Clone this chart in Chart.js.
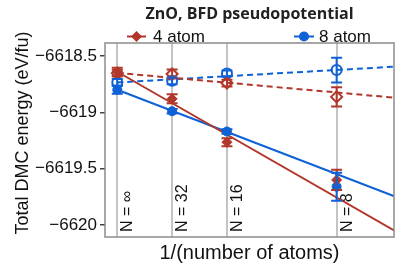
<!DOCTYPE html>
<html>
<head>
<meta charset="utf-8">
<script src="https://cdn.jsdelivr.net/npm/chart.js@4.4.1/dist/chart.umd.min.js"></script>
<style>
html, body { margin: 0; padding: 0; background: #fff; }
</style>
</head>
<body>
<canvas id="myChart" width="409" height="265"></canvas>
<script>
var nLabels = ['N = \u221E', 'N = 32', 'N = 16', 'N = 8'];
var invN = [0, 0.03125, 0.0625, 0.125];
var yTicks = [-6620, -6619.5, -6619, -6618.5];

// raw DMC energies, filled markers
var dmc4 = [-6618.64, -6618.88, -6619.265, -6619.60];
var err4 = [0.035, 0.04, 0.035, 0.09];
var dmc8 = [-6618.80, -6618.99, -6619.17, -6619.66];
var err8 = [0.035, 0.02, 0.02, 0.125];
// corrected energies, open markers
var corr4 = [-6618.652, -6618.66, -6618.74, -6618.863];
var cerr4 = [0.03, 0.04, 0.03, 0.085];
var corr8 = [-6618.735, -6618.72, -6618.655, -6618.625];
var cerr8 = [0.03, 0.03, 0.025, 0.11];

// fit lines (end points)
var fitX = [0, 0.158];
var fit4 = [-6618.64, -6620.05];
var fit8 = [-6618.80, -6619.745];
var fitCorr4 = [-6618.65, -6618.87];
var fitCorr8 = [-6618.735, -6618.595];

var red = '#b2372b';
var blue = '#0e62d6';
var fontFam = '"Liberation Sans", Arial, sans-serif';

function pts(xs, ys) {
  return xs.map(function (x, i) { return {x: x, y: ys[i]}; });
}

var errorBars = {
  id: 'errorBars',
  afterDatasetsDraw: function (chart) {
    var ctx = chart.ctx, xs = chart.scales.x, ys = chart.scales.y;
    chart.data.datasets.forEach(function (ds) {
      if (!ds.errs) return;
      ctx.save();
      ctx.strokeStyle = ds.borderColor;
      ctx.lineWidth = 2;
      ds.data.forEach(function (p, i) {
        var px = xs.getPixelForValue(p.x);
        var y1 = ys.getPixelForValue(p.y - ds.errs[i]);
        var y2 = ys.getPixelForValue(p.y + ds.errs[i]);
        ctx.beginPath();
        ctx.moveTo(px, y1); ctx.lineTo(px, y2);
        ctx.moveTo(px - 5.5, y1); ctx.lineTo(px + 5.5, y1);
        ctx.moveTo(px - 5.5, y2); ctx.lineTo(px + 5.5, y2);
        ctx.stroke();
      });
      ctx.restore();
    });
  }
};

var decorations = {
  id: 'decorations',
  beforeDatasetsDraw: function (chart) {
    var ctx = chart.ctx, xs = chart.scales.x, a = chart.chartArea;
    ctx.save();
    ctx.fillStyle = '#111';
    ctx.font = '16px ' + fontFam;
    ctx.textAlign = 'left';
    ctx.textBaseline = 'alphabetic';
    invN.forEach(function (v, i) {
      var px = xs.getPixelForValue(v);
      ctx.save();
      ctx.translate(px + 15, a.bottom - 5);
      ctx.rotate(-Math.PI / 2);
      ctx.fillText(nLabels[i], 0, 0);
      ctx.restore();
    });
    ctx.restore();
  },
  afterDraw: function (chart) {
    var ctx = chart.ctx, a = chart.chartArea;
    ctx.save();
    // frame
    ctx.strokeStyle = '#8c8c8c';
    ctx.lineWidth = 1.5;
    ctx.strokeRect(a.left, a.top, a.right - a.left, a.bottom - a.top);
    // title
    ctx.fillStyle = '#222';
    ctx.font = 'bold 16px "Open Sans", sans-serif';
    ctx.textAlign = 'center';
    ctx.textBaseline = 'alphabetic';
    ctx.fillText('ZnO, BFD pseudopotential', (a.left + a.right) / 2, 18.5);
    // legend
    var ly = 36.5;
    ctx.lineWidth = 2;
    ctx.strokeStyle = red; ctx.fillStyle = red;
    ctx.beginPath(); ctx.moveTo(127, ly); ctx.lineTo(146, ly); ctx.stroke();
    ctx.beginPath();
    ctx.moveTo(136.5, ly - 5.5); ctx.lineTo(142, ly); ctx.lineTo(136.5, ly + 5.5); ctx.lineTo(131, ly);
    ctx.closePath(); ctx.fill();
    ctx.strokeStyle = blue; ctx.fillStyle = blue;
    ctx.beginPath(); ctx.moveTo(294, ly); ctx.lineTo(314, ly); ctx.stroke();
    ctx.beginPath(); ctx.arc(304, ly, 5, 0, Math.PI * 2); ctx.fill();
    ctx.fillStyle = '#111';
    ctx.font = '17px ' + fontFam;
    ctx.textAlign = 'left';
    ctx.fillText('4 atom', 153, 42);
    ctx.fillText('8 atom', 319, 42);
    // y axis title
    ctx.save();
    ctx.translate(28, 133);
    ctx.rotate(-Math.PI / 2);
    ctx.textAlign = 'center';
    ctx.font = '18px ' + fontFam;
    ctx.fillText('Total DMC energy (eV/fu)', 0, 0);
    ctx.restore();
    ctx.restore();
  }
};

var ctx = document.getElementById('myChart').getContext('2d');
var myChart = new Chart(ctx, {
  type: 'scatter',
  data: {
    datasets: [
      {label: '4 atom', data: pts(invN, dmc4), errs: err4, pointStyle: 'rectRot', pointRadius: 5,
        backgroundColor: red, borderColor: red, borderWidth: 1},
      {label: '8 atom', data: pts(invN, dmc8), errs: err8, pointStyle: 'circle', pointRadius: 4.5,
        backgroundColor: blue, borderColor: blue, borderWidth: 1},
      {label: '4 atom corrected', data: pts(invN, corr4), errs: cerr4, pointStyle: 'rectRot', pointRadius: 5.5,
        backgroundColor: 'rgba(0,0,0,0)', borderColor: red, borderWidth: 2},
      {label: '8 atom corrected', data: pts(invN, corr8), errs: cerr8, pointStyle: 'circle', pointRadius: 5,
        backgroundColor: 'rgba(0,0,0,0)', borderColor: blue, borderWidth: 2},
      {label: 'fit 4', data: pts(fitX, fit4), showLine: true, pointRadius: 0, borderColor: red, borderWidth: 2},
      {label: 'fit 8', data: pts(fitX, fit8), showLine: true, pointRadius: 0, borderColor: blue, borderWidth: 2},
      {label: 'fit 4 corrected', data: pts(fitX, fitCorr4), showLine: true, pointRadius: 0, borderColor: red,
        borderWidth: 2, borderDash: [6, 4]},
      {label: 'fit 8 corrected', data: pts(fitX, fitCorr8), showLine: true, pointRadius: 0, borderColor: blue,
        borderWidth: 2, borderDash: [6, 4]}
    ]
  },
  options: {
    responsive: false,
    animation: false,
    layout: { padding: {left: 0, right: 15, top: 43, bottom: 0} },
    plugins: {
      legend: { display: false },
      tooltip: { enabled: false },
      title: { display: false }
    },
    scales: {
      x: {
        type: 'linear',
        min: -0.007,
        max: 0.1577,
        afterBuildTicks: function (scale) {
          scale.ticks = invN.map(function (v) { return {value: v}; });
        },
        afterFit: function (scale) { scale.height = 28; },
        ticks: { display: false },
        grid: { color: '#c4c4c4', lineWidth: 2, drawTicks: false },
        border: { display: false },
        title: {
          display: true,
          text: '1/(number of atoms)',
          color: '#111',
          font: { family: fontFam, size: 20 },
          padding: {top: 0, bottom: 0}
        }
      },
      y: {
        type: 'linear',
        min: -6620.106,
        max: -6618.385,
        afterBuildTicks: function (scale) {
          scale.ticks = yTicks.map(function (v) { return {value: v}; });
        },
        afterFit: function (scale) { scale.width = 105; },
        ticks: {
          color: '#111',
          padding: 3,
          font: { family: fontFam, size: 17 },
          callback: function (v) { return '\u2212' + Math.abs(v); }
        },
        grid: { drawOnChartArea: false, drawTicks: true, tickLength: 5, color: '#444', lineWidth: 1.5 },
        border: { display: false }
      }
    }
  },
  plugins: [errorBars, decorations]
});
</script>
</body>
</html>
